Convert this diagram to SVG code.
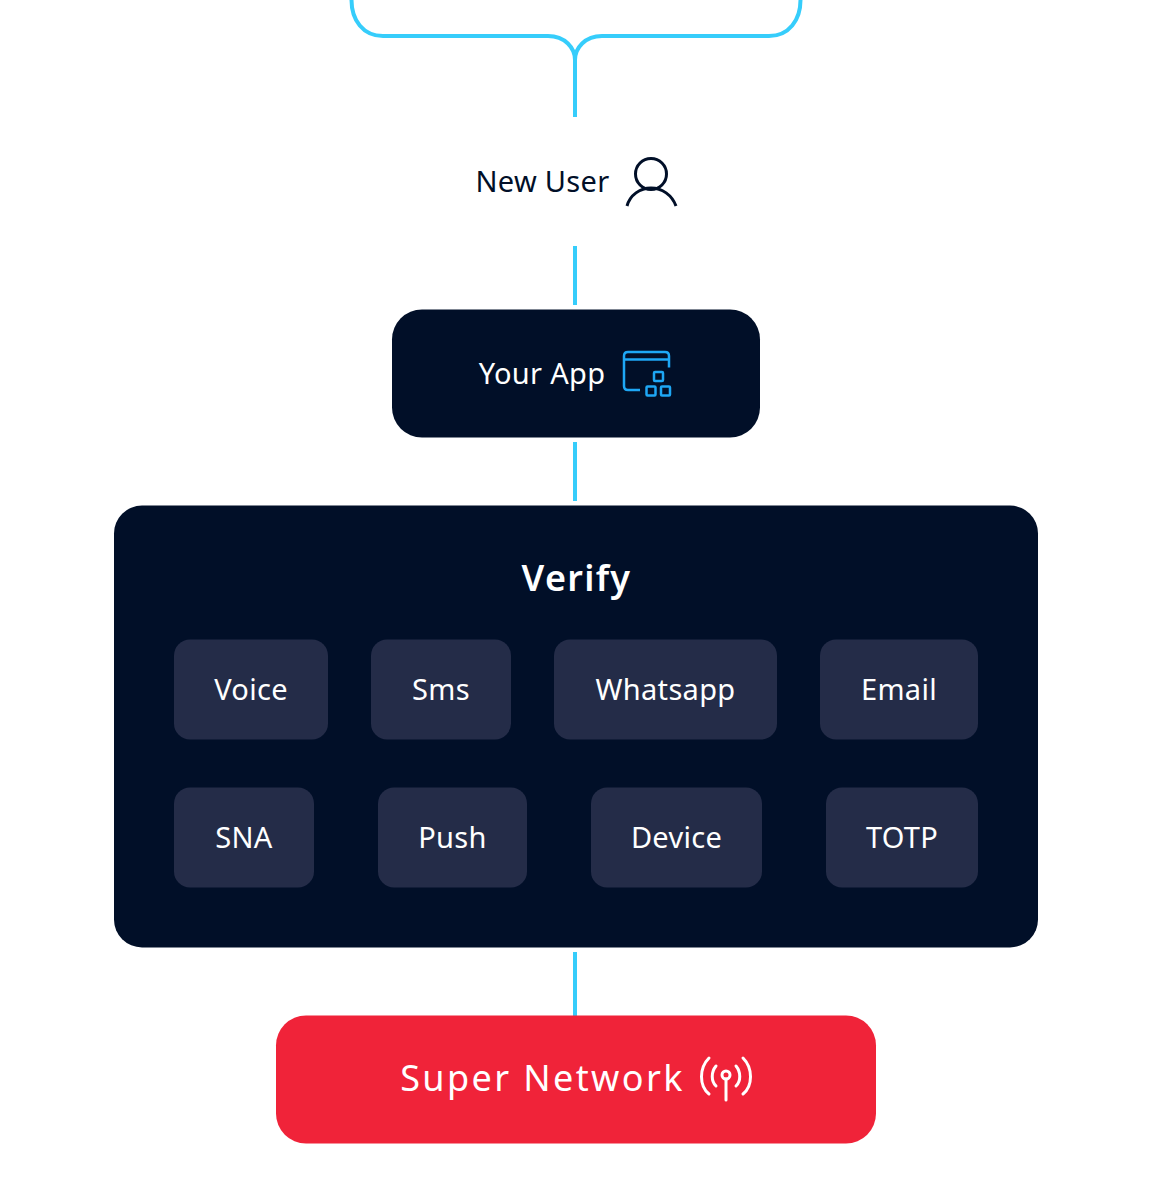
<svg xmlns="http://www.w3.org/2000/svg" width="1152" height="1192" viewBox="0 0 1152 1192">
<style>
.t{font-family:"Noto Sans","Open Sans",sans-serif;text-anchor:middle;fill:#fff;font-size:29px;letter-spacing:.3px}
.c{fill:none;stroke:#36cdfb;stroke-width:4}
.chip{fill:#242c48}
.dark{fill:#010f28}
</style>
<rect width="1152" height="1192" fill="#fff"/>
<g id="connectors">
<path class="c" d="M351.500 0C351.500 20 363 36 383 36H548C565 36 575 48 575 60V117"/>
<path class="c" d="M800.500 0C800.500 20 789 36 769 36H602C585 36 575 48 575 60"/>
<path class="c" d="M575 246V305M575 442V501M575 952V1016"/>
</g>
<g id="new-user">
<text x="475.500" y="192" style="font-family:'Noto Sans','Open Sans',sans-serif;font-size:29px;letter-spacing:.3px;fill:#010f28">New User</text>
<circle cx="651" cy="174" r="15.500" fill="none" stroke="#010f28" stroke-width="3"/>
<path d="M627 206C630 195 640 188 651 188C662 188 672 195 676 206" fill="none" stroke="#010f28" stroke-width="3"/>
</g>
<g id="your-app">
<rect class="dark" x="392" y="309.500" width="368" height="128" rx="30"/>
<text class="t" x="542" y="384">Your App</text>
<g fill="none" stroke="#1ea7f5" stroke-width="2.500">
<path d="M640 390H628Q624 390 624 386V356Q624 352 628 352H665Q669 352 669 356V367.500M624 359.500H669"/>
<rect x="654" y="372" width="9" height="9" rx="1"/><rect x="646.500" y="386.500" width="9" height="9" rx="1"/><rect x="661" y="386.500" width="9" height="9" rx="1"/>
</g>
</g>
<g id="verify">
<rect class="dark" x="114" y="505.500" width="924" height="442" rx="28"/>
<text class="t" x="576.500" y="591" style="font-size:36px;font-weight:600;letter-spacing:1.300px">Verify</text>
</g>
<g id="voice"><rect class="chip" x="174" y="639.500" width="154" height="100" rx="16"/><text class="t" x="251" y="700">Voice</text></g>
<g id="sms"><rect class="chip" x="371" y="639.500" width="140" height="100" rx="16"/><text class="t" x="441" y="700">Sms</text></g>
<g id="whatsapp"><rect class="chip" x="554" y="639.500" width="223" height="100" rx="16"/><text class="t" x="665.500" y="700">Whatsapp</text></g>
<g id="email"><rect class="chip" x="820" y="639.500" width="158" height="100" rx="16"/><text class="t" x="899" y="700">Email</text></g>
<g id="sna"><rect class="chip" x="174" y="787.500" width="140" height="100" rx="16"/><text class="t" x="244" y="848">SNA</text></g>
<g id="push"><rect class="chip" x="378" y="787.500" width="149" height="100" rx="16"/><text class="t" x="452.500" y="848">Push</text></g>
<g id="device"><rect class="chip" x="591" y="787.500" width="171" height="100" rx="16"/><text class="t" x="676.500" y="848">Device</text></g>
<g id="totp"><rect class="chip" x="826" y="787.500" width="152" height="100" rx="16"/><text class="t" x="902" y="848">TOTP</text></g>
<g id="super-network">
<rect x="276" y="1015.500" width="600" height="128" rx="30" fill="#f02339"/>
<text class="t" x="542.500" y="1091" style="font-size:36px;letter-spacing:2.400px">Super Network</text>
<g fill="none" stroke="#fff" stroke-width="3" stroke-linecap="round">
<circle cx="726" cy="1075" r="4"/><path d="M726 1079V1100"/>
<path d="M716 1066C711 1072 711 1081 716 1086M736 1066C741 1072 741 1081 736 1086"/>
<path d="M709 1058C699 1068 699 1086 709 1094M743 1058C753 1068 753 1086 743 1094"/>
</g>
</g>
</svg>
